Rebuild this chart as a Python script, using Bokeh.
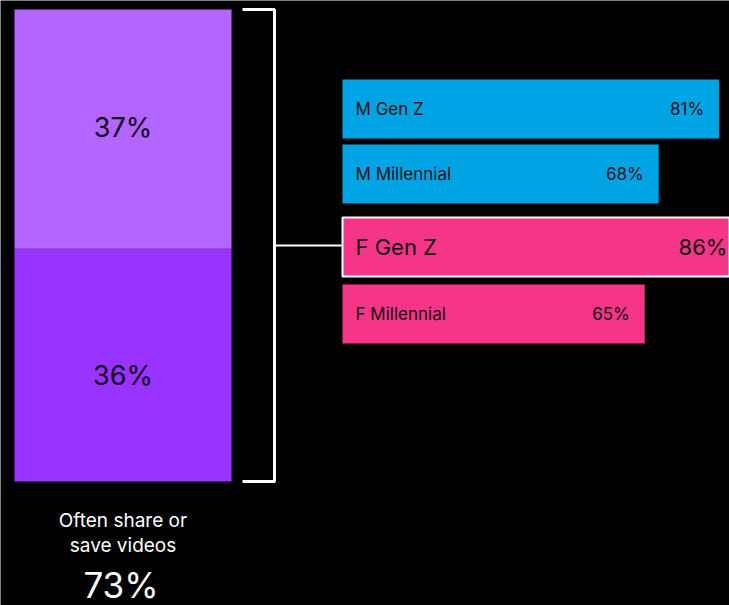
import re
from bokeh.plotting import figure
from bokeh.models import Range1d, ColumnDataSource
from bokeh.core.properties import value
from bokeh.embed import file_html
from bokeh.resources import INLINE

# ---- data ----
stack_labels = ["Often", "Sometimes"]          # bottom, top segments
stack_values = [36, 37]
total_label = "Often share or\nsave videos"
groups = ["M Gen Z", "M Millennial", "F Gen Z", "F Millennial"]
group_values = [81, 68, 86, 65]
highlight = "F Gen Z"

# ---- styles / layout (reference pixel space) ----
W, H = 729, 605
FONT = "Inter"
BG = "#000000"
PURPLES = ["#9933FF", "#B366FF"]
BLUE = "#00A3E3"
PINK = "#F53587"
label_nudge = [10, -2]
row_centers = [108.5, 173.5, 246.5, 313.5]
row_h = 59
X0, X1, Y0, Y1 = 0, 729, 0, 605
stack_left, stack_right, stack_top, stack_bottom = 14, 231, 9, 481
bar_zero_x, px_per_pct = 342, 4.65

total = sum(stack_values)
px_per_stack = (stack_bottom - stack_top) / total

p = figure(width=W, height=H, output_backend="svg", toolbar_location=None,
           x_range=Range1d(X0, X1), y_range=Range1d(Y1, Y0),
           background_fill_color=BG, border_fill_color=BG,
           outline_line_color=None, min_border=0)
p.axis.visible = False
p.grid.visible = False
p.extra_y_ranges = {"stack": Range1d(-(Y1 - stack_bottom) / px_per_stack,
                                     total + (stack_top - Y0) / px_per_stack)}
p.extra_x_ranges = {"pct": Range1d(-(bar_zero_x - X0) / px_per_pct,
                                   (X1 - bar_zero_x) / px_per_pct)}

# ---- stacked bar ----
bottoms, tops = [], []
acc = 0
for v in stack_values:
    bottoms.append(acc)
    acc += v
    tops.append(acc)
cx = (stack_left + stack_right) / 2
src_s = ColumnDataSource(dict(x=[cx] * len(stack_values), bottom=bottoms, top=tops,
                              color=PURPLES, mid=[(b + t) / 2 for b, t in zip(bottoms, tops)],
                              lab=[f"{v}%" for v in stack_values], dy=label_nudge))
p.vbar(x="x", bottom="bottom", top="top", width=stack_right - stack_left,
       fill_color="color", line_color=None, source=src_s, y_range_name="stack")
p.text(x="x", y="mid", text="lab", source=src_s, y_range_name="stack", y_offset="dy",
       text_align="center", text_baseline="middle", text_color="#12001f",
       text_font=value(FONT), text_font_size="27px")

# bracket
bx0, bx1 = 242, 274
p.line(x=[bx0, bx1, bx1, bx0], y=[total, total, 0, 0], y_range_name="stack",
       line_color="white", line_width=3)
p.line(x=[bx1, bar_zero_x - 1], y=[total / 2, total / 2], y_range_name="stack",
       line_color="white", line_width=2)

# caption
lines = total_label.split("\n")
p.text(x=[cx] * len(lines), y=[520, 545][:len(lines)], text=lines,
       text_align="center", text_baseline="middle", text_color="white",
       text_font=value(FONT), text_font_size="19px")
p.text(x=[cx - 2], y=[584], text=[f"{total}%"], text_align="center",
       text_baseline="middle", text_color="white", text_font=value(FONT),
       text_font_size="35px")

# ---- horizontal bars ----
is_hl = [g == highlight for g in groups]
src_b = ColumnDataSource(dict(
    y=row_centers, v=group_values, g=groups,
    lab=[f"{v}%" for v in group_values],
    zero=[0] * len(groups),
    fill=[BLUE if g.startswith("M") else PINK for g in groups],
    lc=["white" if h else None for h in is_hl],
    lw=[2 if h else 0 for h in is_hl],
    fs=["22px" if h else "17px" for h in is_hl],
))
p.hbar(y="y", left="zero", right="v", height=row_h, fill_color="fill",
       line_color="lc", line_width="lw", source=src_b, x_range_name="pct")
p.text(x="zero", y="y", text="g", source=src_b, x_range_name="pct", x_offset=13,
       text_align="left", text_baseline="middle", text_color="#111111",
       text_font=value(FONT), text_font_size="fs")
p.text(x="v", y="y", text="lab", source=src_b, x_range_name="pct", x_offset=-15,
       text_align="right", text_baseline="middle", text_color="#111111",
       text_font=value(FONT), text_font_size="fs")

html = file_html(p, INLINE)
html = re.sub(r"<body([^>]*)>", r'<body\1 style="background-color:#000000;margin:0;">', html, count=1)
open("out.html", "w").write(html)
